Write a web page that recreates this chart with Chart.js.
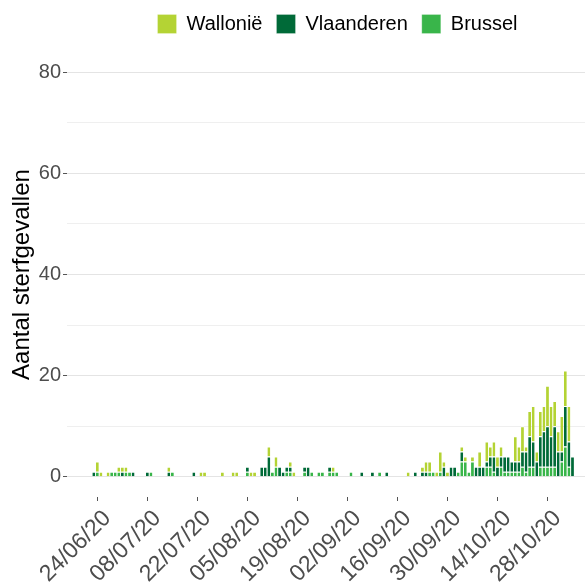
<!DOCTYPE html>
<html>
<head>
<meta charset="utf-8">
<script src="https://cdn.jsdelivr.net/npm/chart.js@4.4.1/dist/chart.umd.min.js"></script>
<style>
  html, body { margin: 0; padding: 0; background: #fff; }
  #wrap { width: 585px; height: 584px; }
</style>
</head>
<body>
<div id="wrap"><canvas id="chart"></canvas></div>
<script>
// one category per day, 16/06/20 .. 07/11/20
var firstDay = [2020, 5, 16];
var dayCount = 145;
var tickDays = ['24/06/20', '08/07/20', '22/07/20', '05/08/20', '19/08/20',
                '02/09/20', '16/09/20', '30/09/20', '14/10/20', '28/10/20'];
var yTicks = [0, 10, 20, 30, 40, 50, 60, 70, 80];

// daily deaths per region (rows of 10 days)
var brussel = [
  0,0,0,0,0,0,0,0,1,0,
  0,0,1,1,1,0,1,1,0,0,
  0,0,0,1,0,0,0,0,0,1,
  0,0,0,0,0,0,0,0,0,0,
  0,0,0,0,0,0,0,0,0,0,
  1,0,0,0,0,0,0,1,2,0,
  0,1,1,0,0,0,1,0,1,0,
  1,1,0,1,1,1,0,0,0,1,
  0,0,0,0,0,0,0,1,0,0,
  0,0,0,0,0,0,0,0,0,0,
  0,1,1,0,1,0,0,0,0,1,
  3,3,1,3,0,0,0,2,2,1,
  0,2,1,1,1,1,1,2,1,2,
  2,0,2,2,2,2,2,0,3,6,
  2,0,0,0,0
];
var vlaanderen = [
  0,0,0,0,0,0,0,1,0,0,
  0,0,0,0,0,1,0,0,1,0,
  0,0,1,0,0,0,0,0,1,0,
  0,0,0,0,0,1,0,0,0,0,
  0,0,0,0,0,0,0,0,0,0,
  1,0,0,0,2,2,4,0,0,2,
  1,1,1,0,0,0,1,2,0,0,
  0,0,0,1,0,0,0,0,0,0,
  0,0,1,0,0,1,0,0,0,1,
  0,0,0,0,0,0,0,1,0,1,
  1,0,0,0,0,2,0,2,2,0,
  2,0,0,0,2,2,2,1,2,3,
  2,2,3,3,2,2,2,3,4,6,
  5,3,6,7,8,6,8,5,2,8,
  5,4,0,0,0
];
var wallonie = [
  0,0,0,0,0,0,0,0,2,1,
  0,1,0,0,1,1,1,0,0,0,
  0,0,0,0,0,0,0,0,1,0,
  0,0,0,0,0,0,0,1,1,0,
  0,0,0,1,0,0,1,1,0,0,
  0,1,1,0,0,0,2,0,2,0,
  0,0,1,1,0,0,0,0,0,0,
  0,0,0,0,1,0,0,0,0,0,
  0,0,0,0,0,0,0,0,0,0,
  0,0,0,0,0,1,0,0,0,1,
  2,2,0,1,4,1,1,0,0,0,
  1,1,0,1,0,3,0,4,2,3,
  2,2,0,0,0,5,3,5,1,5,
  7,2,5,5,8,6,5,4,7,7,
  7,0,0,0,0
];

function pad(n) { return (n < 10 ? '0' : '') + n; }
var days = [];
for (var i = 0; i < dayCount; i++) {
  var d = new Date(firstDay[0], firstDay[1], firstDay[2] + i);
  days.push(pad(d.getDate()) + '/' + pad(d.getMonth() + 1) + '/20');
}

Chart.defaults.font.family = "'Liberation Sans', Arial, sans-serif";

// ggplot legend: a bit right of the canvas centre, more room under it
var legendTweak = {
  id: 'legendTweak',
  beforeLayout: function(chart) {
    var lg = chart.legend;
    if (lg && !lg._tweaked) {
      var fit = lg.fit;
      lg.fit = function() { fit.call(this); this.height += 8; };
      lg._tweaked = true;
    }
  },
  afterLayout: function(chart) {
    chart.legend.left += 45;
    chart.legend.right += 45;
  }
};

var barStyle = {
  borderColor: '#ffffff',
  borderWidth: { top: 1, left: 0, right: 0, bottom: 0 },
  borderSkipped: false,
  inflateAmount: 0,
  categoryPercentage: 0.8,
  barPercentage: 1
};

var ctx = document.getElementById('chart').getContext('2d');
var chart = new Chart(ctx, {
  type: 'bar',
  data: {
    labels: days,
    datasets: [
      Object.assign({ label: 'Brussel', data: brussel, backgroundColor: '#39b54a' }, barStyle),
      Object.assign({ label: 'Vlaanderen', data: vlaanderen, backgroundColor: '#006a38' }, barStyle),
      Object.assign({ label: 'Wallonië', data: wallonie, backgroundColor: '#b4d334' }, barStyle)
    ]
  },
  options: {
    responsive: true,
    maintainAspectRatio: false,
    animation: false,
    layout: { padding: { top: 0, right: 0, bottom: 0, left: 0 } },
    plugins: {
      tooltip: { enabled: false },
      legend: {
        position: 'top',
        reverse: true,
        labels: {
          boxWidth: 19,
          boxHeight: 19,
          padding: 14,
          color: '#000',
          font: { size: 20 }
        }
      }
    },
    scales: {
      x: {
        stacked: true,
        afterBuildTicks: function(scale) {
          scale.ticks = scale.ticks.filter(function(t) {
            return tickDays.indexOf(days[t.value]) >= 0;
          });
        },
        afterFit: function(scale) { scale.height = 87; },
        grid: { display: true, drawOnChartArea: false, offset: false, tickLength: 4, tickColor: '#555' },
        border: { display: false },
        ticks: {
          autoSkip: false,
          minRotation: 45,
          maxRotation: 45,
          labelOffset: 10,
          color: '#4d4d4d',
          font: { size: 23 },
          padding: 4
        }
      },
      y: {
        stacked: true,
        min: -4,
        max: 84,
        afterBuildTicks: function(scale) {
          scale.ticks = yTicks.map(function(v) { return { value: v }; });
        },
        afterFit: function(scale) { scale.width = 67; },
        grid: {
          color: function(c) { return c.tick && c.tick.value % 20 === 0 ? '#e4e4e4' : '#efefef'; },
          tickColor: function(c) { return c.tick && c.tick.value % 20 === 0 ? '#555' : 'rgba(0,0,0,0)'; },
          tickLength: 4
        },
        border: { display: false },
        ticks: {
          callback: function(v) { return v % 20 === 0 ? v : ''; },
          color: '#4d4d4d',
          font: { size: 20 },
          padding: 2
        },
        title: {
          display: true,
          text: 'Aantal sterfgevallen',
          color: '#000',
          font: { size: 24 },
          padding: { top: 8, bottom: 0 }
        }
      }
    }
  },
  plugins: [legendTweak]
});
</script>
</body>
</html>
